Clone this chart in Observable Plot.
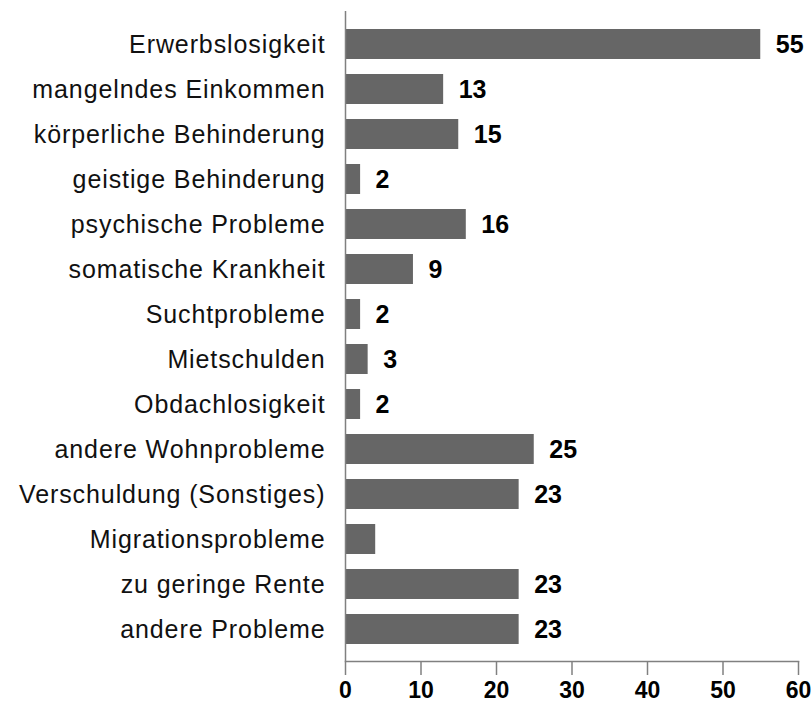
<!DOCTYPE html>
<html>
<head>
<meta charset="utf-8">
<script src="https://cdn.jsdelivr.net/npm/d3@7"></script>
<script src="https://cdn.jsdelivr.net/npm/@observablehq/plot@0.6"></script>
<style>
  html, body { margin: 0; padding: 0; background: #fff; }
  #chart svg { font-family: "Liberation Sans", Arial, Helvetica, sans-serif; }
  #chart .ylab text { letter-spacing: 0.9px; }
</style>
</head>
<body>
<div id="chart"></div>
<script>
const categories = [
  "Erwerbslosigkeit",
  "mangelndes Einkommen",
  "körperliche Behinderung",
  "geistige Behinderung",
  "psychische Probleme",
  "somatische Krankheit",
  "Suchtprobleme",
  "Mietschulden",
  "Obdachlosigkeit",
  "andere Wohnprobleme",
  "Verschuldung (Sonstiges)",
  "Migrationsprobleme",
  "zu geringe Rente",
  "andere Probleme"
];
const values = [55, 13, 15, 2, 16, 9, 2, 3, 2, 25, 23, 4, 23, 23];
const valueLabels = ["55", "13", "15", "2", "16", "9", "2", "3", "2", "25", "23", null, "23", "23"];
const xTicks = [0, 10, 20, 30, 40, 50, 60];

const data = categories.map((c, i) => ({category: c, value: values[i], label: valueLabels[i]}));

const chart = Plot.plot({
  width: 812,
  height: 706,
  marginTop: 11,
  marginBottom: 45,
  marginLeft: 345,
  marginRight: 14,
  style: {fontFamily: "'Liberation Sans', Arial, Helvetica, sans-serif", background: "#fff", color: "#000"},
  x: {domain: [0, 60], ticks: xTicks, label: null},
  y: {domain: categories, paddingInner: 0.34, paddingOuter: 0.33, label: null},
  marks: [
    Plot.barX(data, {x: "value", y: "category", fill: "#666666"}),
    Plot.text(data.filter(d => d.label !== null), {
      x: "value", y: "category", text: "label",
      textAnchor: "start", dx: 15, fontSize: 25, fontWeight: "bold", fill: "#000"
    }),
    Plot.ruleX([0], {stroke: "#808080", strokeWidth: 1.5}),
    Plot.frame({anchor: "bottom", stroke: "#808080", strokeWidth: 1.5}),
    Plot.axisX({
      ticks: xTicks, tickSize: 14, tickPadding: 6, fontSize: 23, fontWeight: "bold",
      stroke: "#808080", strokeWidth: 1.5, fill: "#000", label: null, tickFormat: d => String(d)
    }),
    Plot.axisY({
      tickSize: 0, tickPadding: 20, fontSize: 25, fill: "#111", label: null, className: "ylab"
    })
  ]
});
document.getElementById("chart").appendChild(chart);
</script>
</body>
</html>
